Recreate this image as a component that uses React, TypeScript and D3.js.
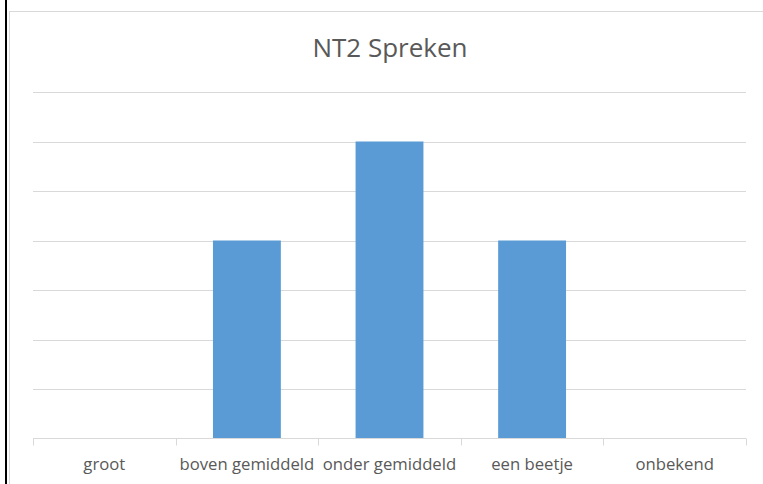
import React from "react";
import * as d3 from "d3";

const categories = ["groot", "boven gemiddeld", "onder gemiddeld", "een beetje", "onbekend"];
const values = [0, 4, 6, 4, 0];
const yTicks = [0, 1, 2, 3, 4, 5, 6, 7];
const title = "NT2 Spreken";

export default function App() {
  const W = 763, H = 484;
  const left = 33, right = 746, top = 92, bottom = 438.5;
  const x = d3.scaleBand<string>().domain(categories).range([left, right]).paddingInner(0.524).paddingOuter(0.262);
  const xb = d3.scaleBand<string>().domain(categories).range([left, right]);
  const y = d3.scaleLinear().domain([0, 7]).range([bottom, top]);
  const font = "Open Sans, sans-serif";
  return (
    <svg width={W} height={H} style={{ position: "absolute", left: 0, top: 0, background: "#fff" }}>
      <rect x={0} y={0} width={W} height={H} fill="#fff" />
      <rect x={9.5} y={11.5} width={W + 10} height={H + 10} fill="none" stroke="#D9D9D9" strokeWidth={1} />
      <rect x={5} y={0} width={2} height={H} fill="#000" />
      <text x={390} y={57} textAnchor="middle" fontFamily={font} fontSize={26} fill="#595959">{title}</text>
      {yTicks.filter(t => t > 0).map(t => (
        <line key={t} x1={left} x2={right} y1={Math.round(y(t)) + 0.5} y2={Math.round(y(t)) + 0.5} stroke="#D9D9D9" strokeWidth={1} />
      ))}
      {categories.map((c, i) => (
        <rect key={c} x={x(c)} width={x.bandwidth()} y={y(values[i])} height={bottom - y(values[i])} fill="#5B9BD5" />
      ))}
      <line x1={left} x2={right} y1={bottom} y2={bottom} stroke="#D9D9D9" strokeWidth={1} />
      {[...categories.map(c => xb(c) as number), right].map((t, i) => (
        <line key={i} x1={Math.round(t) + 0.5} x2={Math.round(t) + 0.5} y1={bottom} y2={bottom + 7} stroke="#D9D9D9" strokeWidth={1} />
      ))}
      {categories.map(c => (
        <text key={c} x={(xb(c) as number) + xb.bandwidth() / 2} y={470} textAnchor="middle" fontFamily={font} fontSize={16.7} fill="#595959">{c}</text>
      ))}
    </svg>
  );
}
